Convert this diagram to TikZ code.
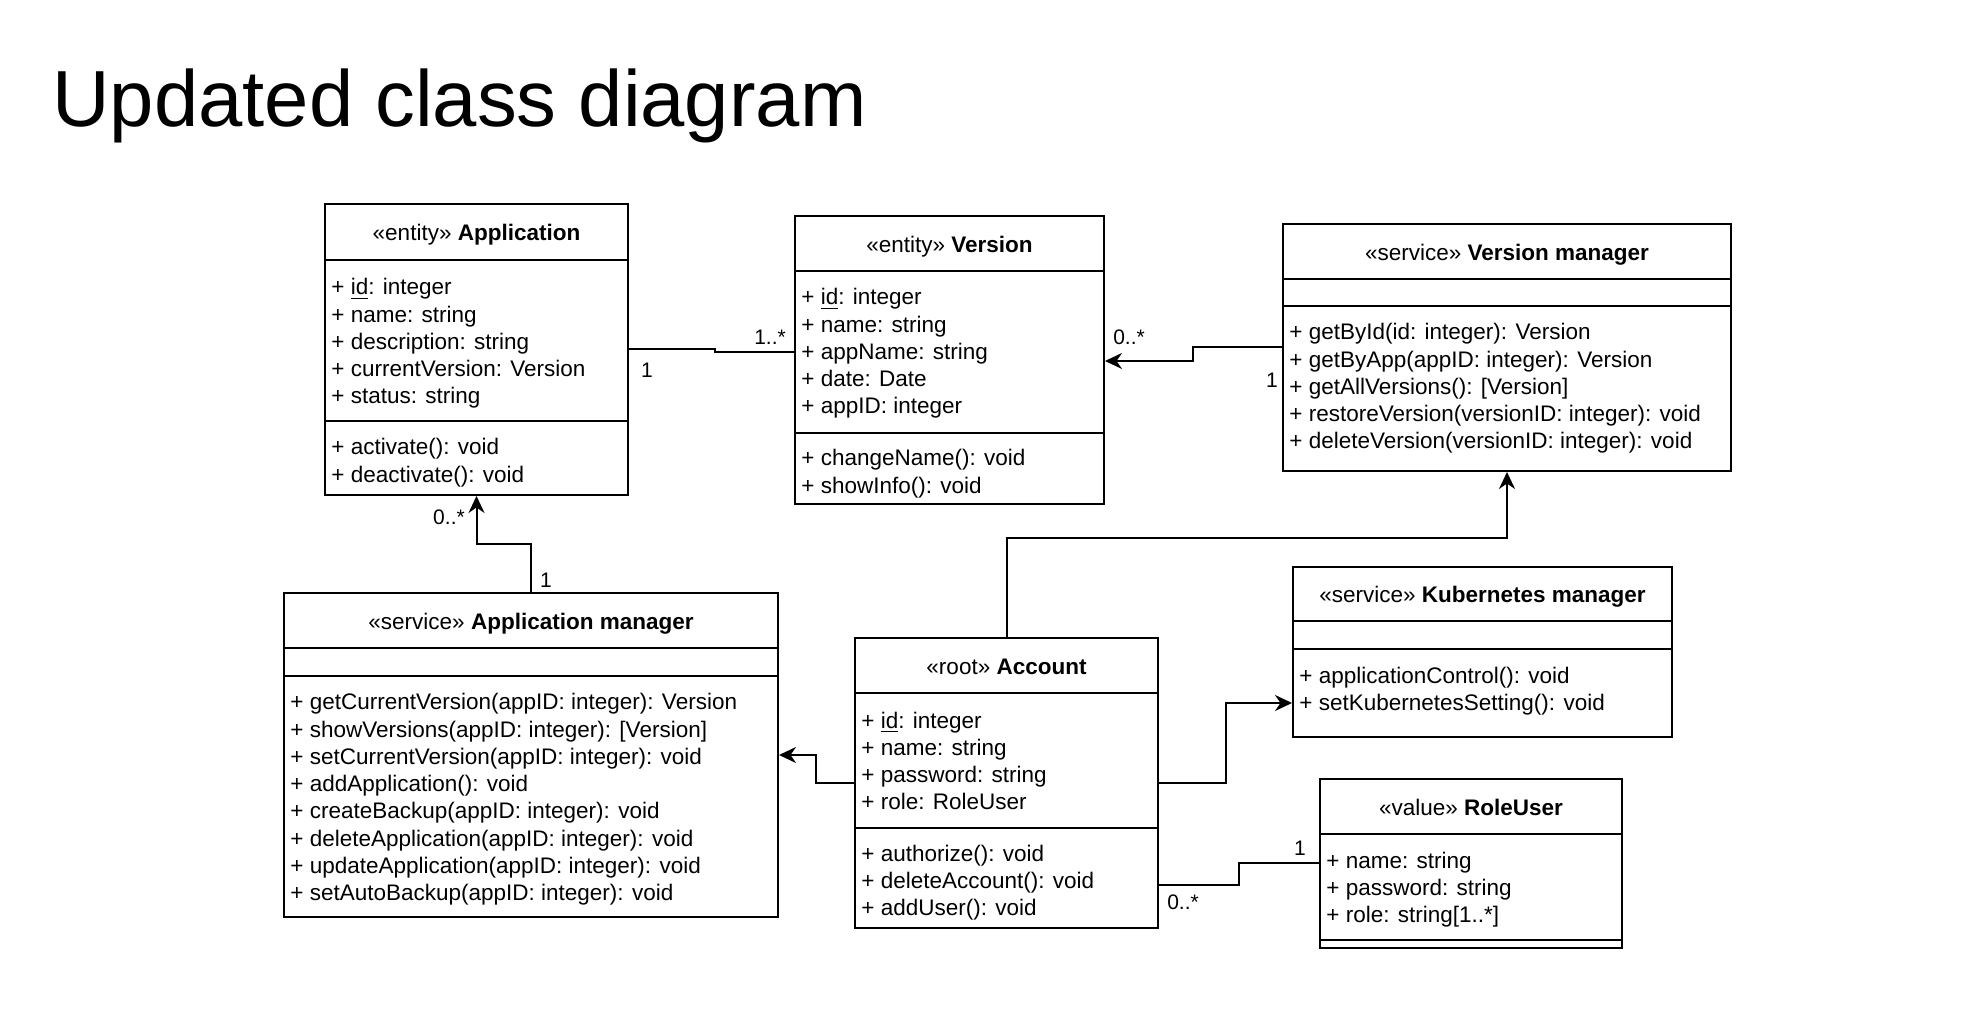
\documentclass[tikz,border=0pt]{standalone}
\usepackage{fontspec}
\setmainfont{Liberation Sans}
\usetikzlibrary{arrows.meta,fit}

\begin{document}
\begin{tikzpicture}[x=0.5pt,y=-0.5pt,
  umlbox/.style={draw,line width=1pt,inner sep=0pt},
  head/.style={anchor=base,inner sep=0pt,font=\fontsize{11.25}{13.6}\selectfont},
  row/.style={anchor=base west,inner sep=0pt,font=\fontsize{11.25}{13.6}\selectfont},
  mult/.style={inner sep=0pt,font=\fontsize{10.5}{12.6}\selectfont},
  link/.style={draw,line width=1pt},
  arr/.style={link,-{Stealth[length=8.5pt,width=8pt]}}]

\path[use as bounding box,fill=white] (0,0) rectangle (1964,1036);

\node[anchor=base west,inner sep=0pt,font=\fontsize{39.8}{47}\selectfont] (title) at (52,127) {Updated class diagram};

\node[umlbox,fit={(325,204) (628,495)}] (app) {};
\node[umlbox,fit={(795,216) (1104,504)}] (ver) {};
\node[umlbox,fit={(1283,224) (1731,471)}] (vm) {};
\node[umlbox,fit={(284,593) (778,917)}] (am) {};
\node[umlbox,fit={(855,638) (1158,928)}] (acc) {};
\node[umlbox,fit={(1293,567) (1672,737)}] (km) {};
\node[umlbox,fit={(1320,779) (1622,948)}] (ru) {};

\path[link] (app.west |- 0,260) -- (app.east |- 0,260);
\path[link] (app.west |- 0,421) -- (app.east |- 0,421);
\path[link] (ver.west |- 0,271) -- (ver.east |- 0,271);
\path[link] (ver.west |- 0,433) -- (ver.east |- 0,433);
\path[link] (vm.west |- 0,279) -- (vm.east |- 0,279);
\path[link] (vm.west |- 0,306) -- (vm.east |- 0,306);
\path[link] (am.west |- 0,648) -- (am.east |- 0,648);
\path[link] (am.west |- 0,676) -- (am.east |- 0,676);
\path[link] (acc.west |- 0,693) -- (acc.east |- 0,693);
\path[link] (acc.west |- 0,828) -- (acc.east |- 0,828);
\path[link] (km.west |- 0,621) -- (km.east |- 0,621);
\path[link] (km.west |- 0,649) -- (km.east |- 0,649);
\path[link] (ru.west |- 0,834) -- (ru.east |- 0,834);
\path[link] (ru.west |- 0,940) -- (ru.east |- 0,940);

\node[head] (app-h) at (476.5,241) {«entity» \textbf{Application}};
\node[head] (ver-h) at (949.5,252.5) {«entity» \textbf{Version}};
\node[head] (vm-h) at (1507,260.5) {«service» \textbf{Version manager}};
\node[head] (am-h) at (531,629.5) {«service» \textbf{Application manager}};
\node[head] (acc-h) at (1006.5,674.5) {«root» \textbf{Account}};
\node[head] (km-h) at (1482.5,603) {«service» \textbf{Kubernetes manager}};
\node[head] (ru-h) at (1471,815.5) {«value» \textbf{RoleUser}};

\foreach \t [count=\i] in {{+ \underline{id}: integer},{+ name: string},{+ description: string},{+ currentVersion: Version},{+ status: string}}
  \node[row] (app-a\i) at (331,{295+27.2*(\i-1)}) {\t};
\foreach \t [count=\i] in {{+ activate(): void},{+ deactivate(): void}}
  \node[row] (app-m\i) at (331,{455+27.2*(\i-1)}) {\t};

\foreach \t [count=\i] in {{+ \underline{id}: integer},{+ name: string},{+ appName: string},{+ date: Date},{+ appID: integer}}
  \node[row] (ver-a\i) at (801,{305+27.2*(\i-1)}) {\t};
\foreach \t [count=\i] in {{+ changeName(): void},{+ showInfo(): void}}
  \node[row] (ver-m\i) at (801,{466+27.2*(\i-1)}) {\t};

\foreach \t [count=\i] in {{+ getById(id: integer): Version},{+ getByApp(appID: integer): Version},{+ getAllVersions(): [Version]},{+ restoreVersion(versionID: integer): void},{+ deleteVersion(versionID: integer): void}}
  \node[row] (vm-m\i) at (1289,{340+27.2*(\i-1)}) {\t};

\foreach \t [count=\i] in {{+ getCurrentVersion(appID: integer): Version},{+ showVersions(appID: integer): [Version]},{+ setCurrentVersion(appID: integer): void},{+ addApplication(): void},{+ createBackup(appID: integer): void},{+ deleteApplication(appID: integer): void},{+ updateApplication(appID: integer): void},{+ setAutoBackup(appID: integer): void}}
  \node[row] (am-m\i) at (290,{710+27.2*(\i-1)}) {\t};

\foreach \t [count=\i] in {{+ \underline{id}: integer},{+ name: string},{+ password: string},{+ role: RoleUser}}
  \node[row] (acc-a\i) at (861,{728+27.2*(\i-1)}) {\t};
\foreach \t [count=\i] in {{+ authorize(): void},{+ deleteAccount(): void},{+ addUser(): void}}
  \node[row] (acc-m\i) at (861,{861+27.2*(\i-1)}) {\t};

\foreach \t [count=\i] in {{+ applicationControl(): void},{+ setKubernetesSetting(): void}}
  \node[row] (km-m\i) at (1299,{683+27.2*(\i-1)}) {\t};

\foreach \t [count=\i] in {{+ name: string},{+ password: string},{+ role: string[1..*]}}
  \node[row] (ru-a\i) at (1326,{868+27.2*(\i-1)}) {\t};

\path[link] (app.east |- 0,349) -- (715,349) -- (715,352) -- (ver.west |- 0,352);
\node[mult] (app-ver1) at (647,370) {1};
\node[mult] (app-ver2) at (770,337) {1..*};

\path[arr] (vm.west |- 0,347) -- (1193,347) -- (1193,361) -- (ver.east |- 0,361);
\node[mult] (vm-ver1) at (1129,337) {0..*};
\node[mult] (vm-ver2) at (1272,380) {1};

\path[arr] (am.north) -- (am.north |- 0,544) -| (app.south);
\node[mult] (am-app1) at (449,517) {0..*};
\node[mult] (am-app2) at (546,580) {1};

\path[arr] (acc.west |- 0,783) -- (816,783) |- (am.east);
\path[arr] (acc.north) |- (vm.south |- 0,538) -- (vm.south);
\path[arr] (acc.east |- 0,783) -- (1226,783) |- (km.west |- 0,703);

\path[link] (acc.east |- 0,885) -- (1239,885) |- (ru.west |- 0,863);
\node[mult] (acc-ru1) at (1300,848) {1};
\node[mult] (acc-ru2) at (1183,902) {0..*};

\end{tikzpicture}
\end{document}
